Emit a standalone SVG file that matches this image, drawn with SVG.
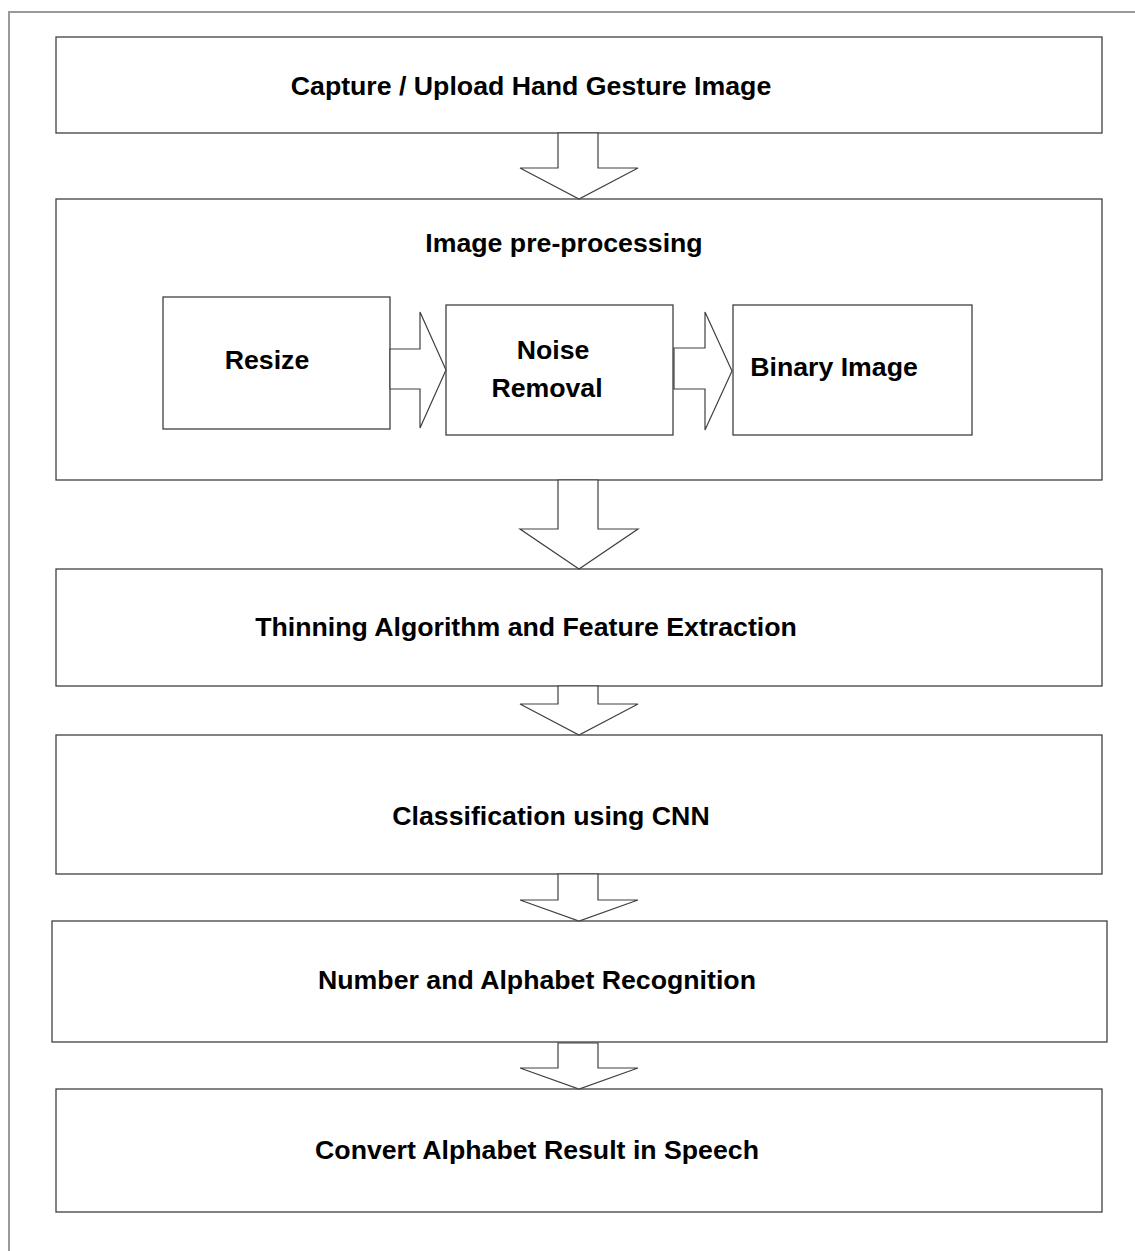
<svg xmlns="http://www.w3.org/2000/svg" width="1135" height="1251" viewBox="0 0 1135 1251">
<style>
.box{fill:#fff;stroke:#404040;stroke-width:1.3}
.arr{fill:#fff;stroke:#404040;stroke-width:1.2;stroke-linejoin:miter}
.t{font-family:"Liberation Sans",Arial,sans-serif;font-weight:bold;font-size:26.7px;fill:#000;text-anchor:middle}
</style>
<rect width="1135" height="1251" fill="#fff"/>
<path d="M9,1251 V12 H1135" fill="none" stroke="#999" stroke-width="2"/>
<g id="n1"><rect class="box" x="56" y="37" width="1046" height="96"/><text class="t" x="531" y="95">Capture / Upload Hand Gesture Image</text></g>
<g id="n2"><rect class="box" x="56" y="199" width="1046" height="281"/><text class="t" x="564" y="252">Image pre-processing</text></g>
<g id="n2a"><rect class="box" x="163" y="297" width="227" height="132"/><text class="t" x="267" y="369">Resize</text></g>
<g id="n2b"><rect class="box" x="446" y="305" width="227" height="130"/><text class="t" x="553" y="359">Noise</text><text class="t" x="547" y="397">Removal</text></g>
<g id="n2c"><rect class="box" x="733" y="305" width="239" height="130"/><text class="t" x="834" y="376">Binary Image</text></g>
<g id="n3"><rect class="box" x="56" y="569" width="1046" height="117"/><text class="t" x="526" y="636">Thinning Algorithm and Feature Extraction</text></g>
<g id="n4"><rect class="box" x="56" y="735" width="1046" height="139"/><text class="t" x="551" y="825">Classification using CNN</text></g>
<g id="n5"><rect class="box" x="52" y="921" width="1055" height="121"/><text class="t" x="537" y="989">Number and Alphabet Recognition</text></g>
<g id="n6"><rect class="box" x="56" y="1089" width="1046" height="123"/><text class="t" x="537" y="1159">Convert Alphabet Result in Speech</text></g>
<g id="connectors">
<polygon class="arr" points="558,133 598,133 598,168 638,168 579,199 520,168 558,168"/>
<polygon class="arr" points="390,349 420,349 420,312 446,370 420,428 420,389 390,389"/>
<polygon class="arr" points="674,348 705,348 705,312 732,371 705,430 705,389 674,389"/>
<polygon class="arr" points="558,480 598,480 598,529 638,529 579,569 520,529 558,529"/>
<polygon class="arr" points="558,686 598,686 598,704 638,704 579,735 520,704 558,704"/>
<polygon class="arr" points="558,874 598,874 598,900 638,900 579,921 520,900 558,900"/>
<polygon class="arr" points="558,1043 598,1043 598,1068 638,1068 579,1089 520,1068 558,1068"/>
</g>
</svg>
